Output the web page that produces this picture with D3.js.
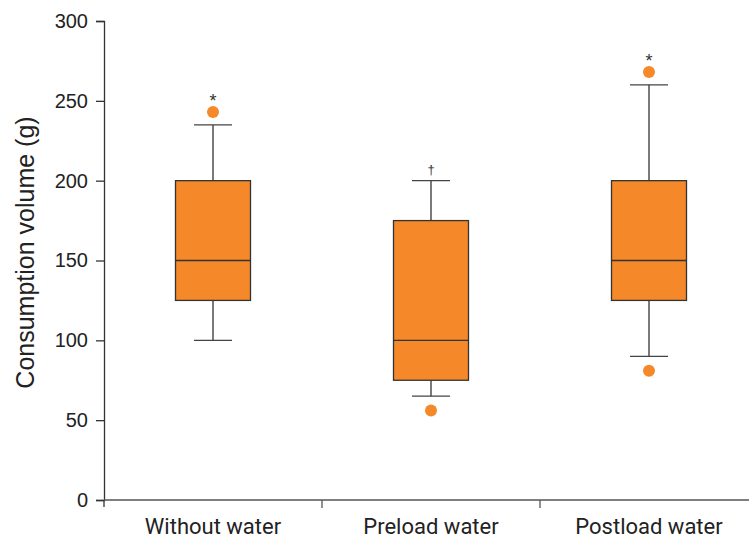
<!DOCTYPE html>
<html>
<head>
<meta charset="utf-8">
<script src="https://cdn.jsdelivr.net/npm/d3@7"></script>
<style>
  body { margin: 0; background: #fff; }
</style>
</head>
<body>
<div id="chart"></div>
<script>
/** data **/
const groups = ["Without water", "Preload water", "Postload water"];
const whiskerLow = [100, 65, 90];
const q1 = [125, 75, 125];
const median = [150, 100, 150];
const q3 = [200, 175, 200];
const whiskerHigh = [235, 200, 260];
const outliers = [[243], [56], [268, 81]];
const marks = ["*", "\u2020", "*"];
const yTicks = [0, 50, 100, 150, 200, 250, 300];

const width = 749;
const height = 539;
const margin = { top: 21, left: 104, bottom: 39 };
const plotRight = 758;
const orange = "#F5892A";
const sansFont = "Liberation Sans, Arial, sans-serif";

const svg = d3.select("#chart")
    .append("svg")
    .attr("width", width)
    .attr("height", height);

const x = d3.scaleBand()
    .domain(groups)
    .range([margin.left, plotRight]);

const y = d3.scaleLinear()
    .domain([0, 300])
    .range([height - margin.bottom, margin.top]);

const boxWidth = 75;
const capWidth = 38;

// y axis
const yAxis = svg.append("g")
    .attr("transform", `translate(${margin.left},0)`)
    .call(d3.axisLeft(y).tickValues(yTicks).tickSize(8).tickPadding(8));
yAxis.select(".domain").attr("stroke", "#333").attr("stroke-width", 1.3);
yAxis.selectAll(".tick line").attr("stroke", "#333").attr("stroke-width", 1.3);
yAxis.selectAll(".tick text")
    .attr("font-family", sansFont)
    .attr("font-size", 20)
    .attr("fill", "#222");
// small extension below zero
svg.append("line")
    .attr("x1", margin.left).attr("x2", margin.left)
    .attr("y1", y(0)).attr("y2", y(0) + 7)
    .attr("stroke", "#333").attr("stroke-width", 1.3);

// x axis line with ticks at band boundaries
svg.append("line")
    .attr("x1", margin.left).attr("x2", width)
    .attr("y1", y(0)).attr("y2", y(0))
    .attr("stroke", "#555").attr("stroke-width", 1.3);

svg.selectAll(".xsep")
    .data(groups.slice(1))
    .join("line")
    .attr("class", "xsep")
    .attr("x1", d => x(d)).attr("x2", d => x(d))
    .attr("y1", y(0)).attr("y2", y(0) + 8)
    .attr("stroke", "#555").attr("stroke-width", 1.3);

svg.append("g")
    .selectAll("text")
    .data(groups)
    .join("text")
    .attr("x", d => x(d) + x.bandwidth() / 2)
    .attr("y", y(0) + 34)
    .attr("text-anchor", "middle")
    .attr("font-family", "Roboto, sans-serif")
    .attr("font-size", 22)
    .attr("fill", "#222")
    .text(d => d);

// y axis title
svg.append("text")
    .attr("transform", `translate(34,${(y(0) + y(300)) / 2 - 8}) rotate(-90)`)
    .attr("text-anchor", "middle")
    .attr("font-family", sansFont)
    .attr("font-size", 25)
    .attr("fill", "#222")
    .text("Consumption volume (g)");

// boxes
const box = svg.append("g")
    .selectAll("g")
    .data(groups)
    .join("g")
    .attr("transform", d => `translate(${x(d) + x.bandwidth() / 2},0)`);

// whiskers
box.append("line")
    .attr("y1", (d, i) => y(whiskerLow[i]))
    .attr("y2", (d, i) => y(q1[i]))
    .attr("stroke", "#333").attr("stroke-width", 1.3);
box.append("line")
    .attr("y1", (d, i) => y(whiskerHigh[i]))
    .attr("y2", (d, i) => y(q3[i]))
    .attr("stroke", "#333").attr("stroke-width", 1.3);
box.append("line")
    .attr("x1", -capWidth / 2).attr("x2", capWidth / 2)
    .attr("y1", (d, i) => y(whiskerLow[i]))
    .attr("y2", (d, i) => y(whiskerLow[i]))
    .attr("stroke", "#444").attr("stroke-width", 1.3);
box.append("line")
    .attr("x1", -capWidth / 2).attr("x2", capWidth / 2)
    .attr("y1", (d, i) => y(whiskerHigh[i]))
    .attr("y2", (d, i) => y(whiskerHigh[i]))
    .attr("stroke", "#444").attr("stroke-width", 1.3);

box.append("rect")
    .attr("x", -boxWidth / 2)
    .attr("width", boxWidth)
    .attr("y", (d, i) => y(q3[i]))
    .attr("height", (d, i) => y(q1[i]) - y(q3[i]))
    .attr("fill", orange)
    .attr("stroke", "#333")
    .attr("stroke-width", 1.3);

box.append("line")
    .attr("x1", -boxWidth / 2).attr("x2", boxWidth / 2)
    .attr("y1", (d, i) => y(median[i]))
    .attr("y2", (d, i) => y(median[i]))
    .attr("stroke", "#333").attr("stroke-width", 1.3);

// outliers
box.each(function (d, i) {
    d3.select(this).selectAll("circle")
        .data(outliers[i])
        .join("circle")
        .attr("cx", 0)
        .attr("cy", v => y(v))
        .attr("r", 6)
        .attr("fill", orange);
});

// significance marks above the top element
box.append("text")
    .attr("y", (d, i) => y(Math.max(whiskerHigh[i], ...outliers[i])) - (marks[i] === "*" ? 5 : 7))
    .attr("text-anchor", "middle")
    .attr("font-family", sansFont)
    .attr("font-size", (d, i) => marks[i] === "*" ? 18 : 13)
    .attr("fill", "#333")
    .text((d, i) => marks[i]);
</script>
</body>
</html>
